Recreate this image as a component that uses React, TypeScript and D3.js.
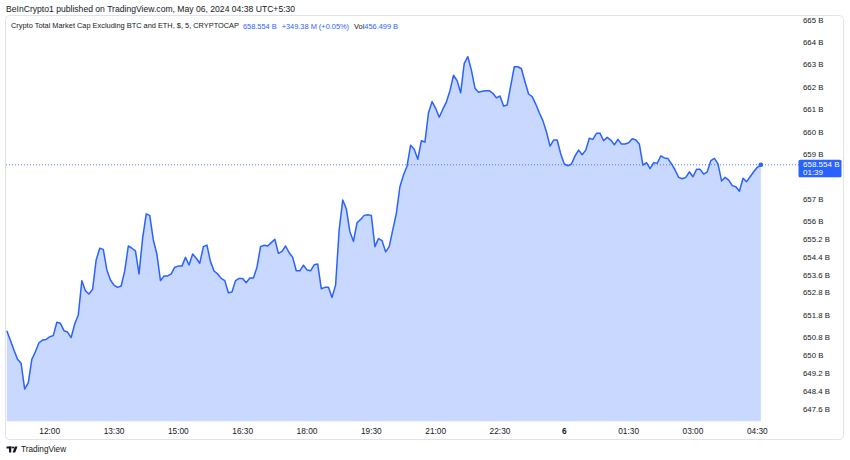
import React from "react";
import * as d3 from "d3";

// ---- data ----
const START_TIME = "2024-05-05T11:00:00";
const INTERVAL_MIN = 5;
const closes: number[] = [
  651.13, 650.7, 650.27, 649.85, 649.67, 648.52, 648.8, 649.85, 650.19, 650.59,
  650.71, 650.74, 650.86, 650.91, 651.51, 651.46, 651.13, 651.07, 650.82, 651.43,
  651.83, 653.37, 652.92, 652.77, 652.98, 654.29, 654.82, 654.77, 653.85, 653.4,
  653.17, 653.07, 653.13, 653.81, 654.92, 654.82, 654.7, 653.67, 655.26, 656.35,
  656.29, 655.19, 654.56, 653.37, 653.58, 653.58, 653.67, 653.97, 654.02, 654.02,
  654.41, 654.07, 654.56, 654.37, 654.15, 654.89, 654.96, 654.22, 653.8, 653.67,
  653.47, 653.37, 652.83, 652.86, 653.37, 653.47, 653.47, 653.28, 653.49, 653.49,
  653.97, 654.89, 654.95, 654.92, 655.07, 655.22, 654.59, 654.68, 654.92, 654.62,
  654.41, 653.81, 653.81, 654.06, 653.85, 653.81, 654.08, 654.11, 653.01, 653.07,
  653.07, 652.62, 653.17, 655.64, 656.98, 656.59, 655.56, 655.13, 655.96, 656.11,
  656.29, 656.32, 656.29, 654.89, 655.25, 655.16, 654.66, 654.89, 655.64, 656.38,
  657.57, 658.1, 658.5, 659.43, 659.25, 658.8, 659.63, 659.57, 660.88, 661.38,
  661.08, 660.68, 661.04, 661.36, 661.87, 662.56, 662.32, 661.78, 663.09, 663.39,
  662.79, 661.98, 661.8, 661.84, 661.87, 661.87, 661.75, 661.55, 661.63, 661.18,
  661.23, 662.08, 662.94, 662.94, 662.85, 662.27, 661.72, 661.6, 661.27, 660.88,
  660.53, 660.03, 659.39, 659.66, 659.66, 659.04, 658.59, 658.51, 658.59, 658.95,
  659.21, 659.0, 659.21, 659.74, 659.69, 659.96, 659.96, 659.63, 659.78, 659.66,
  659.45, 659.69, 659.48, 659.48, 659.54, 659.72, 659.66, 659.48, 658.54, 658.65,
  658.38, 658.65, 658.62, 658.95, 658.86, 658.83, 658.59, 658.32, 657.99, 657.93,
  657.99, 658.24, 658.02, 658.35, 658.35, 658.14, 658.24, 658.74, 658.84, 658.59,
  657.83, 657.99, 657.87, 657.62, 657.57, 657.37, 657.95, 657.8, 658.02, 658.24,
  658.44, 658.554,
];

const yTicks: number[] = [
  665, 664, 663, 662, 661, 660, 659, 658, 657, 656, 655.2, 654.4, 653.6, 652.8,
  651.8, 650.8, 650, 649.2, 648.4, 647.6,
];

const xTickTimes: string[] = [
  "2024-05-05T12:00:00", "2024-05-05T13:30:00", "2024-05-05T15:00:00",
  "2024-05-05T16:30:00", "2024-05-05T18:00:00", "2024-05-05T19:30:00",
  "2024-05-05T21:00:00", "2024-05-05T22:30:00", "2024-05-06T00:00:00",
  "2024-05-06T01:30:00", "2024-05-06T03:00:00", "2024-05-06T04:30:00",
];
const xTickLabels: string[] = [
  "12:00", "13:30", "15:00", "16:30", "18:00", "19:30", "21:00", "22:30", "6",
  "01:30", "03:00", "04:30",
];

const HEADER = "BeInCrypto1 published on TradingView.com, May 06, 2024 04:38 UTC+5:30";
const TITLE = "Crypto Total Market Cap Excluding BTC and ETH, $, 5, CRYPTOCAP";
const LAST_TEXT = "658.554 B";
const CHANGE_TEXT = "+349.38 M (+0.05%)";
const VOL_TEXT = "456.499 B";
const COUNTDOWN = "01:39";

const BLUE = "#2962ff";
const TEXT = "#131722";
const FONT = "'Liberation Sans', Arial, sans-serif";

export default function App() {
  const W = 850;
  const H = 460;
  const plotLeft = 6;
  const plotRight = 797;
  const plotTop = 16;
  const plotBottom = 421.5;

  const start = new Date(START_TIME).getTime();
  const data = closes.map((v, i) => ({
    t: new Date(start + i * INTERVAL_MIN * 60000),
    v,
  }));

  const x = d3
    .scaleTime()
    .domain([new Date("2024-05-05T11:00:00"), new Date("2024-05-06T04:30:00")])
    .range([6.8, 757.3]);
  const y = d3.scaleLinear().domain([647.6, 665]).range([409.6, 20.7]);

  const line = d3
    .line<{ t: Date; v: number }>()
    .x((d) => x(d.t))
    .y((d) => y(d.v));
  const area = d3
    .area<{ t: Date; v: number }>()
    .x((d) => x(d.t))
    .y0(plotBottom)
    .y1((d) => y(d.v));

  const last = data[data.length - 1];
  const lastY = y(last.v);
  const lastX = x(last.t);
  const tagTop = lastY - 5;
  const tagBottom = lastY + 12.5;

  return (
    <svg
      width={W}
      height={H}
      style={{ position: "absolute", left: 0, top: 0, background: "#fff" }}
      fontFamily={FONT}
    >
      <rect x={0} y={0} width={W} height={H} fill="#ffffff" />
      {/* header */}
      <text x={6} y={9.5} fontSize={8.6} fill={TEXT} dominantBaseline="middle">
        {HEADER}
      </text>
      {/* panel border */}
      <rect
        x={5.5}
        y={15.5}
        width={838}
        height={424}
        rx={4}
        fill="none"
        stroke="#e0e3eb"
        strokeWidth={1}
      />
      <defs>
        <clipPath id="plotclip">
          <rect x={plotLeft} y={plotTop} width={plotRight - plotLeft} height={plotBottom - plotTop} />
        </clipPath>
      </defs>
      <g clipPath="url(#plotclip)">
        <path d={area(data) || ""} fill="rgba(41,98,255,0.25)" />
        <path
          d={line(data) || ""}
          fill="none"
          stroke={BLUE}
          strokeWidth={1.5}
          strokeLinejoin="round"
        />
      </g>
      {/* last price dotted line */}
      <line
        x1={plotLeft}
        x2={plotRight + 2}
        y1={lastY}
        y2={lastY}
        stroke={BLUE}
        strokeWidth={0.8}
        strokeDasharray="1 2"
      />
      <circle cx={lastX} cy={lastY} r={2.3} fill={BLUE} />

      {/* legend */}
      <text x={11} y={26.5} fontSize={7.4} dominantBaseline="middle" fill={TEXT}>
        {TITLE}
        <tspan dx={4} fill={BLUE}>{LAST_TEXT}</tspan>
        <tspan dx={5} fill={BLUE}>{CHANGE_TEXT}</tspan>
        <tspan dx={5} fill={TEXT}>Vol</tspan>
        <tspan fill={BLUE}>{VOL_TEXT}</tspan>
      </text>

      {/* y axis labels (the one under the last-price tag is hidden by it) */}
      {yTicks
        .filter((v) => {
          const yy = y(v);
          return yy < tagTop - 3 || yy > tagBottom + 3;
        })
        .map((v) => (
          <text
            key={v}
            x={803}
            y={y(v)}
            fontSize={7.8}
            fill={TEXT}
            dominantBaseline="middle"
          >
            {`${d3.format("~f")(v)} B`}
          </text>
        ))}
      {/* price tag */}
      <rect x={798.5} y={tagTop} width={43} height={17.5} rx={1.5} fill={BLUE} />
      <text x={803} y={lastY + 0.3} fontSize={8} fill="#fff" dominantBaseline="middle">
        {LAST_TEXT}
      </text>
      <text x={803} y={lastY + 8.3} fontSize={8} fill="#fff" dominantBaseline="middle">
        {COUNTDOWN}
      </text>

      {/* x axis labels */}
      {xTickTimes.map((t, i) => (
        <text
          key={t}
          x={x(new Date(t))}
          y={431.5}
          fontSize={8.3}
          fill={TEXT}
          textAnchor="middle"
          dominantBaseline="middle"
          fontWeight={xTickLabels[i] === "6" ? "bold" : "normal"}
        >
          {xTickLabels[i]}
        </text>
      ))}

      {/* TradingView logo */}
      <g fill={TEXT}>
        <rect x={6.5} y={446.5} width={5} height={2} />
        <rect x={9} y={446.5} width={2.2} height={6} />
        <circle cx={13} cy={447.5} r={1.1} />
        <path d="M14.8 446.5 L17.5 446.5 L15.2 452.5 L12.6 452.5 Z" />
      </g>
      <text x={21} y={450} fontSize={8.2} fill={TEXT} dominantBaseline="middle">
        TradingView
      </text>
    </svg>
  );
}
